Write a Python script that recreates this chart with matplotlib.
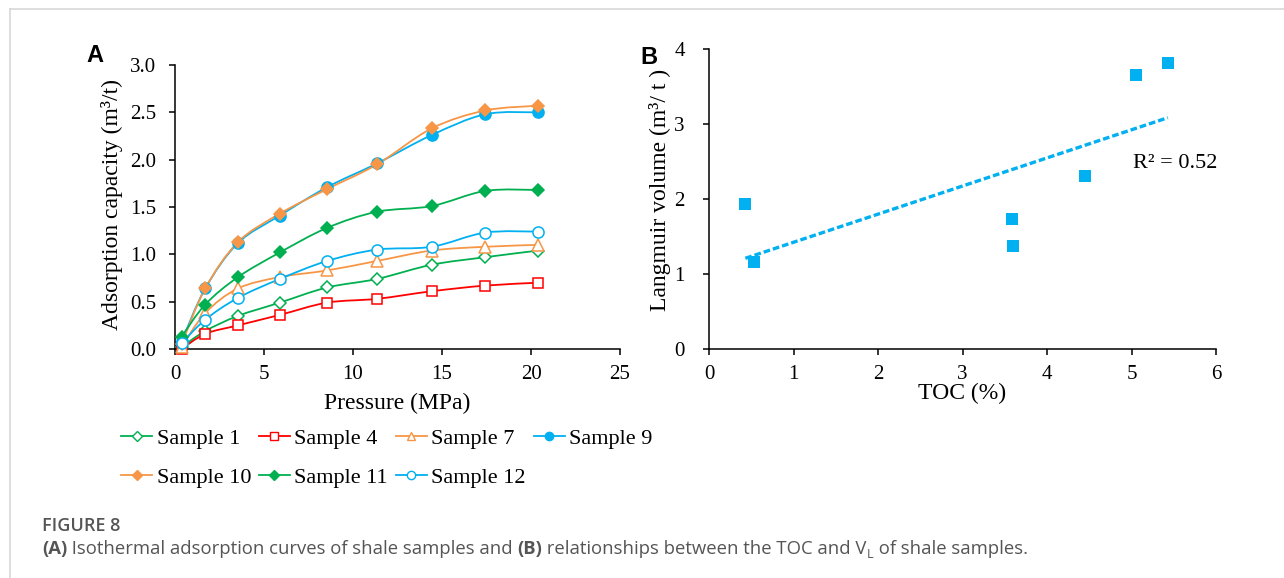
import numpy as np
import matplotlib
matplotlib.use("Agg")
import matplotlib.pyplot as plt
from matplotlib.path import Path
from matplotlib.patches import PathPatch
from matplotlib.lines import Line2D

plt.rcParams["font.family"] = ["Liberation Serif", "DejaVu Serif"]

# ---- data, panel A: isothermal adsorption curves ----
pressure = [0.37, 1.70, 3.54, 5.89, 8.55, 11.35, 14.42, 17.44, 20.41]
sample_1 = [0.02, 0.19, 0.35, 0.49, 0.65, 0.74, 0.89, 0.97, 1.04]
sample_4 = [0.00, 0.16, 0.25, 0.36, 0.49, 0.53, 0.61, 0.67, 0.70]
sample_7 = [0.02, 0.38, 0.64, 0.76, 0.83, 0.93, 1.04, 1.08, 1.10]
sample_9 = [0.08, 0.64, 1.12, 1.41, 1.71, 1.96, 2.26, 2.48, 2.50]
sample_10 = [0.05, 0.64, 1.13, 1.43, 1.69, 1.95, 2.33, 2.52, 2.57]
sample_11 = [0.13, 0.47, 0.76, 1.02, 1.28, 1.45, 1.51, 1.67, 1.68]
sample_12 = [0.06, 0.31, 0.54, 0.74, 0.93, 1.05, 1.08, 1.23, 1.24]

# ---- data, panel B: TOC vs Langmuir volume ----
toc = [0.43, 0.53, 3.59, 3.60, 4.45, 5.05, 5.43]
langmuir_volume = [1.94, 1.16, 1.73, 1.37, 2.31, 3.66, 3.82]

GREEN = "#00B050"
RED = "#FF0000"
ORANGE = "#F79646"
BLUE = "#00B0F0"

series = [
    ("Sample 1", sample_1, GREEN, "D", "white", 6.5),
    ("Sample 4", sample_4, RED, "s", "white", 7.5),
    ("Sample 7", sample_7, ORANGE, "^", "white", 8.5),
    ("Sample 9", sample_9, BLUE, "o", BLUE, 8),
    ("Sample 10", sample_10, ORANGE, "D", ORANGE, 6.5),
    ("Sample 11", sample_11, GREEN, "D", GREEN, 6.5),
    ("Sample 12", sample_12, BLUE, "o", "white", 8),
]


def smooth_path(x, y, sx, sy):
    """Catmull-Rom style bezier path through the points (Excel smoothed line)."""
    pts = np.column_stack([np.asarray(x) * sx, np.asarray(y) * sy])
    verts = [pts[0]]
    codes = [Path.MOVETO]
    n = len(pts)
    for i in range(n - 1):
        p0 = pts[i - 1] if i > 0 else pts[i]
        p1 = pts[i]
        p2 = pts[i + 1]
        p3 = pts[i + 2] if i + 2 < n else pts[i + 1]
        verts += [p1 + (p2 - p0) / 6, p2 - (p3 - p1) / 6, p2]
        codes += [Path.CURVE4] * 3
    verts = np.array(verts) / [sx, sy]
    return Path(verts, codes)


W, H = 1284, 578
fig = plt.figure(figsize=(W / 100, H / 100), dpi=100)


def px_axes(left, top, right, bottom):
    return fig.add_axes([left / W, 1 - bottom / H, (right - left) / W, (bottom - top) / H])


def style_axes(ax, pad):
    for s in ("top", "right"):
        ax.spines[s].set_visible(False)
    for s in ("left", "bottom"):
        ax.spines[s].set_linewidth(1.1)
    ax.tick_params(direction="out", length=4.5, width=1.1, labelsize=15, pad=pad,
                   labelfontfamily="Liberation Serif")
    ax.tick_params(axis="x", pad=7)


LABEL_FS = 17

# ---- panel A ----
axA = px_axes(175, 65, 620, 349)
axA.set_xlim(0, 25)
axA.set_ylim(0, 3.0)
axA.set_xticks(range(0, 26, 5))
axA.set_yticks(np.arange(0, 3.01, 0.5))
axA.set_yticklabels([f"{v:.1f}" for v in np.arange(0, 3.01, 0.5)])
style_axes(axA, 9)

sx, sy = 445 / 25, 284 / 3
handles = []
for name, vals, color, marker, face, ms in series:
    axA.add_patch(PathPatch(smooth_path(pressure, vals, sx, sy), fill=False,
                            edgecolor=color, lw=1.3, zorder=2))
    axA.plot(pressure, vals, linestyle="none", marker=marker, markersize=ms,
             markerfacecolor=face, markeredgecolor=color, markeredgewidth=1.1,
             zorder=3, clip_on=False)
    handles.append(Line2D([], [], color=color, lw=1.3, marker=marker, markersize=ms * 0.75,
                          markerfacecolor=face, markeredgecolor=color,
                          markeredgewidth=1.0, label=name))

axA.set_xlabel("Pressure (MPa)", fontsize=LABEL_FS)
axA.set_ylabel("Adsorption capacity (m³/t)", fontsize=LABEL_FS)
axA.xaxis.label.set_va("center")
axA.yaxis.label.set_va("center")
axA.xaxis.set_label_coords(0.5, -0.19)
axA.yaxis.set_label_coords(-0.142, 0.51)

order = [0, 4, 1, 5, 2, 6, 3]
fig.legend([handles[i] for i in order], [handles[i].get_label() for i in order],
           loc="upper left", bbox_to_anchor=(121 / W, 1 - 428 / H), ncol=4,
           frameon=False, fontsize=16, handlelength=1.4, handletextpad=0.2,
           columnspacing=0.35, labelspacing=0.85, borderaxespad=0, borderpad=0)

# ---- panel B ----
axB = px_axes(709, 49, 1216, 349)
axB.set_xlim(0, 6)
axB.set_ylim(0, 4)
axB.set_xticks(range(0, 7))
axB.set_yticks(range(0, 5))
style_axes(axB, 13)

axB.plot(toc, langmuir_volume, linestyle="none", marker="s", markersize=8,
         color=BLUE, markeredgewidth=0, zorder=3)
slope, intercept = np.polyfit(toc, langmuir_volume, 1)
fit_x = np.array([min(toc), max(toc)])
axB.plot(fit_x, slope * fit_x + intercept, color=BLUE, lw=2.4,
         linestyle=(0, (2.0, 0.9)), zorder=2)
r2 = np.corrcoef(toc, langmuir_volume)[0, 1] ** 2
axB.text(5.02, 2.48, f"R² = {r2:.2f}", fontsize=16, va="center", ha="left")

axB.set_xlabel("TOC (%)", fontsize=LABEL_FS)
axB.set_ylabel("Langmuir volume (m³/ t )", fontsize=LABEL_FS)
axB.xaxis.label.set_va("center")
axB.yaxis.label.set_va("center")
axB.xaxis.set_label_coords(0.5, -0.148)
axB.yaxis.set_label_coords(-0.097, 0.53)

# ---- panel letters ----
fig.text(86 / W, 1 - 56 / H, "A", fontsize=17, fontweight="bold",
         family="Liberation Sans", va="center", ha="left")
fig.text(640 / W, 1 - 57 / H, "B", fontsize=17, fontweight="bold",
         family="Liberation Sans", va="center", ha="left")

# ---- caption ----
cap_color = "#555555"
cap_fs = 13.3
fig.text(42 / W, 1 - 531 / H, "FIGURE 8", fontsize=13, fontweight="semibold",
         family="Open Sans", color=cap_color, va="baseline")

renderer = fig.canvas.get_renderer()
pieces = [("(A)", "bold"), (" Isothermal adsorption curves of shale samples and ", "normal"),
          ("(B)", "bold"), (" relationships between the TOC and V", "normal")]
x = 42
base = 1 - 554 / H
for txt, weight in pieces:
    t = fig.text(x / W, base, txt, fontsize=cap_fs, fontweight=weight,
                 family="Open Sans", color=cap_color, va="baseline")
    x += t.get_window_extent(renderer).width
t = fig.text(x / W, base - 4 / H, "L", fontsize=cap_fs * 0.68, family="Open Sans",
             color=cap_color, va="baseline")
x += t.get_window_extent(renderer).width
fig.text(x / W, base, " of shale samples.", fontsize=cap_fs, family="Open Sans",
         color=cap_color, va="baseline")

# ---- light page frame ----
fig.add_artist(Line2D([10 / W, 1], [1 - 9 / H, 1 - 9 / H], color="#d8d8d8", lw=1.2,
                      transform=fig.transFigure))
fig.add_artist(Line2D([10 / W, 10 / W], [0, 1 - 9 / H], color="#d8d8d8", lw=1.2,
                      transform=fig.transFigure))

fig.savefig("out.png", dpi=100)
